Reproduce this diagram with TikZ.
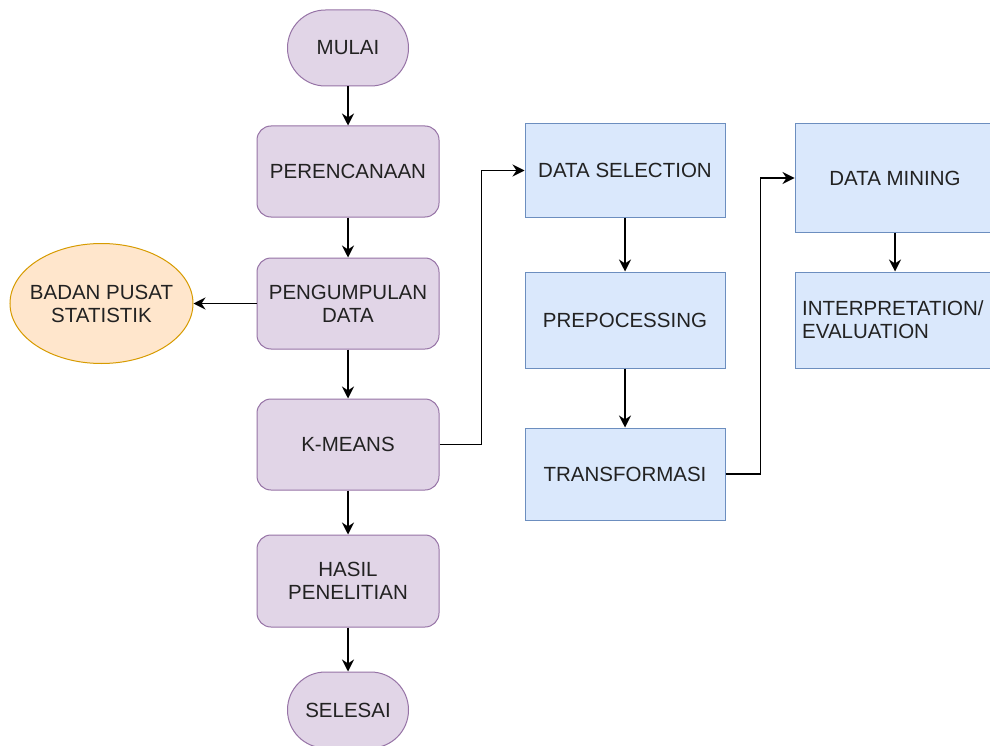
\documentclass[tikz,border=0pt]{standalone}
\usepackage{fontspec}
\setmainfont{Liberation Sans}
\usetikzlibrary{arrows.meta,shapes.geometric}
\definecolor{pfill}{HTML}{E1D5E7}
\definecolor{pline}{HTML}{9673A6}
\definecolor{bfill}{HTML}{DAE8FC}
\definecolor{bline}{HTML}{6C8EBF}
\definecolor{ofill}{HTML}{FFE6CC}
\definecolor{oline}{HTML}{D79B00}
\definecolor{txt}{HTML}{222222}
\begin{document}
\begin{tikzpicture}[x=1pt,y=-1pt,
  every node/.style={font=\fontsize{20.5}{23}\selectfont, text=txt, inner sep=0pt, align=center},
  pbox/.style={draw=pline, fill=pfill, line width=1pt, rounded corners=14pt, minimum width=182pt},
  term/.style={draw=pline, fill=pfill, line width=1pt, rounded corners=37.9pt, minimum width=121pt, minimum height=76pt},
  bbox/.style={draw=bline, fill=bfill, line width=1pt, minimum width=200pt},
  ell/.style={draw=oline, fill=ofill, line width=1pt, ellipse, inner xsep=-9pt, inner ysep=0pt, minimum width=183pt, minimum height=120pt},
  conn/.style={draw=black, line width=1.5pt, -{Stealth[length=12pt,width=12pt,inset=4pt]}}
]
\useasboundingbox (0,0) rectangle (990,746);
\clip (0,0) rectangle (990,746);
\fill[white] (0,0) rectangle (990,746);

\node[term] (mulai) at (348,48) {MULAI};
\node[pbox, minimum height=91pt] (ren) at (348,171.5) {PERENCANAAN};
\node[pbox, minimum height=91pt] (kum) at (348,303.5) {PENGUMPULAN\\DATA};
\node[pbox, minimum height=91pt] (km) at (348,444.5) {K-MEANS};
\node[pbox, minimum height=92pt] (has) at (348,581) {HASIL\\PENELITIAN};
\node[term] (sel) at (348,710) {SELESAI};
\node[ell] (bps) at (101.5,303.5) {BADAN PUSAT\\STATISTIK};

\node[bbox, minimum height=93pt] (ds) at (625,170.5) {DATA SELECTION};
\node[bbox, minimum height=96pt] (pre) at (625,320) {PREPOCESSING};
\node[bbox, minimum height=92pt] (tr) at (625,474) {TRANSFORMASI};
\node[bbox, minimum height=108pt] (dm) at (895,178) {DATA MINING};
\node[bbox, minimum height=96pt] (ie) at (895,320) {};
\node[anchor=west, align=left] (iet) at (802,320) {INTERPRETATION/\\EVALUATION};

\draw[conn] (mulai) -- (ren);
\draw[conn] (ren) -- (kum);
\draw[conn] (kum) -- (bps);
\draw[conn] (kum) -- (km);
\draw[conn] (km) -- (has);
\draw[conn] (has) -- (sel);
\draw[conn] (km.east) -- ++(42,0) |- (ds.west);
\draw[conn] (ds) -- (pre);
\draw[conn] (pre) -- (tr);
\draw[conn] (tr.east) -- ++(35,0) |- (dm.west);
\draw[conn] (dm) -- (ie);
\end{tikzpicture}
\end{document}
